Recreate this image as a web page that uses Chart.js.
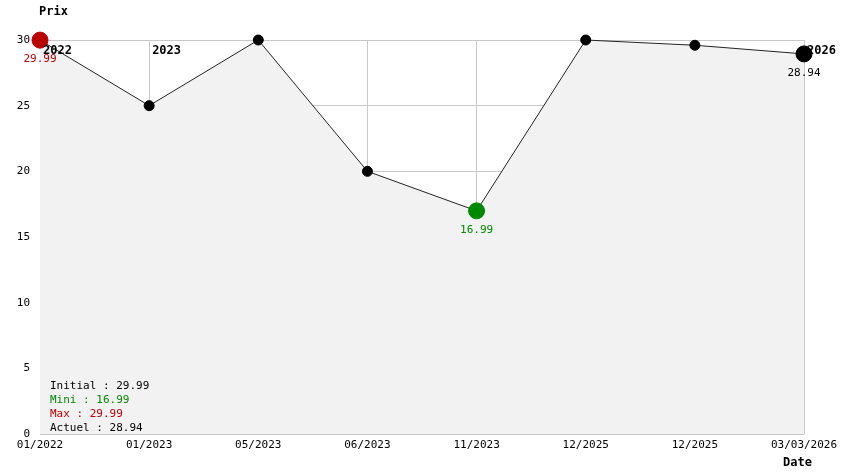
<!DOCTYPE html>
<html><head><meta charset="utf-8">
<script src="https://cdn.jsdelivr.net/npm/chart.js@4/dist/chart.umd.min.js"></script>
<style>body{margin:0;background:#fff}#wrap{width:844px;height:474px}</style>
</head><body><div id="wrap"><canvas id="c"></canvas></div>
<script>
const dates = ['01/2022','01/2023','05/2023','06/2023','11/2023','12/2025','12/2025','03/03/2026'];
const prices = [29.99, 25, 30, 20, 16.99, 30, 29.6, 28.94];
const yearMarks = [[0,'2022'],[1,'2023'],[7,'2026']];
const stats = [['Initial : 29.99','#000'],['Mini : 16.99','#008800'],['Max : 29.99','#bb0000'],['Actuel : 28.94','#000']];

const MONO = 'DejaVu Sans Mono';
const pColors = prices.map((v,i)=> i===0 ? '#bb0000' : i===4 ? '#008800' : '#000');
const pSizes = prices.map((v,i)=> (i===0||i===4||i===7) ? 8 : 5);

const overlay = {
  id:'overlay',
  afterDraw(ch){
    const c = ch.ctx, x = ch.scales.x, y = ch.scales.y;
    c.save();
    c.font = 'bold 12px '+MONO; c.fillStyle='#000'; c.textBaseline='middle';
    yearMarks.forEach(([i,t])=>{ c.fillText(t, x.getPixelForValue(i)+3, y.getPixelForValue(30)+11); });
    c.fillText('Prix', 39, 12);
    c.fillText('Date', 783, 463);
    c.font = '11px '+MONO; c.textAlign='center';
    c.fillStyle='#bb0000'; c.fillText('29.99', x.getPixelForValue(0), y.getPixelForValue(prices[0])+19);
    c.fillStyle='#008800'; c.fillText('16.99', x.getPixelForValue(4), y.getPixelForValue(prices[4])+19);
    c.fillStyle='#000'; c.fillText('28.94', x.getPixelForValue(7), y.getPixelForValue(prices[7])+19);
    c.textAlign='left';
    stats.forEach(([t,col],k)=>{ c.fillStyle=col; c.fillText(t, 50, 386+k*14); });
    c.restore();
  }
};

new Chart(document.getElementById('c'), {
  type:'line',
  data:{ labels:dates, datasets:[{
    data:prices, borderColor:'#222', borderWidth:1, tension:0, clip:false,
    fill:'origin', backgroundColor:'#f2f2f2',
    pointBackgroundColor:pColors, pointBorderColor:pColors, pointRadius:pSizes
  }]},
  options:{
    responsive:true, maintainAspectRatio:false, animation:false,
    layout:{padding:{left:0,right:40,top:40,bottom:0}},
    plugins:{legend:{display:false}, tooltip:{enabled:false}},
    scales:{
      x:{ grid:{color:'#c8c8c8', drawTicks:false}, border:{display:false},
          afterFit(s){ s.height = 40; },
          ticks:{color:'#000', font:{family:MONO,size:11}, maxRotation:0, autoSkip:false, padding:5}},
      y:{ min:0, max:30, grid:{color:'#c8c8c8', drawTicks:false}, border:{display:false},
          afterFit(s){ s.width = 40; },
          ticks:{stepSize:5, color:'#000', font:{family:MONO,size:11}, padding:10}}
    }
  },
  plugins:[overlay]
});
</script></body></html>
